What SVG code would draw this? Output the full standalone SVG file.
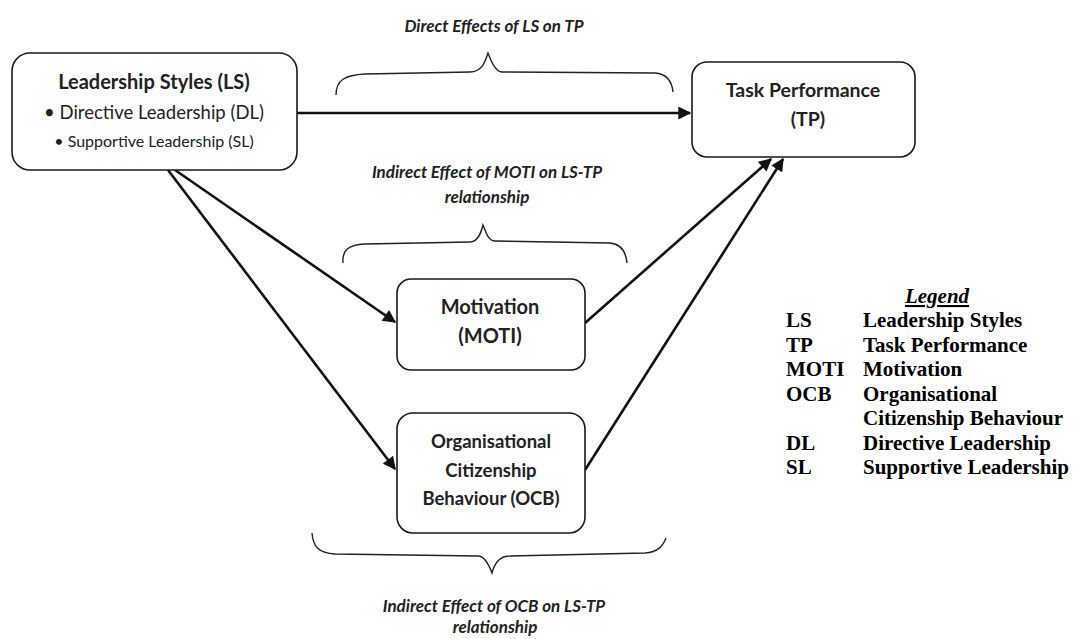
<svg xmlns="http://www.w3.org/2000/svg" width="1081" height="639" viewBox="0 0 1081 639">
<style>
.box{fill:#fff;stroke:#1a1a1a;stroke-width:1.6}
.t{font-family:Lato,"Open Sans",sans-serif;fill:#222;text-anchor:middle}
.b{font-weight:bold}
.it{font-family:Lato,"Open Sans",sans-serif;font-style:italic;font-weight:bold;fill:#222;text-anchor:middle;font-size:17px}
.con{stroke:#111;stroke-width:2.6;fill:none}
.brace{stroke:#222;stroke-width:1.4;fill:none}
.lg{font-family:"Liberation Serif","Times New Roman",serif;font-weight:bold;font-size:21px;fill:#000}
</style>
<defs>
<marker id="ah" viewBox="0 0 10 10" refX="9" refY="5" markerWidth="5.5" markerHeight="5" orient="auto" markerUnits="strokeWidth">
<path d="M0,0 L10,5 L0,10 z" fill="#111"/>
</marker>
</defs>
<rect width="1081" height="639" fill="#fff"/>

<g id="connectors">
<line class="con" x1="297" y1="113" x2="690" y2="113" marker-end="url(#ah)"/>
<line class="con" x1="175" y1="170" x2="395" y2="322" marker-end="url(#ah)"/>
<line class="con" x1="168" y1="170" x2="395" y2="469" marker-end="url(#ah)"/>
<line class="con" x1="585" y1="323" x2="771" y2="159" marker-end="url(#ah)"/>
<line class="con" x1="585" y1="470" x2="783" y2="159" marker-end="url(#ah)"/>
</g>

<g id="braces">
<path class="brace" d="M336,95 C336,80 345,75 365,74 L470,72 C482,72 485,62 488,53 C491,60 495,72 502,72 L655,73 C668,74 672,82 673,92"/>
<path class="brace" d="M343,263 C342,250 348,245 365,244 L470,242 C478,242 481,233 483,225 C486,232 488,241 495,241 L610,243 C622,244 626,252 627,263"/>
<path class="brace" d="M312,533 C313,546 318,553 335,554 L478,556 C485,556 489,565 492,573 C494,565 499,556 510,556 L645,553 C658,552 663,546 666,538"/>
</g>

<g id="ls">
<rect class="box" x="12" y="53" width="285" height="117" rx="18"/>
<text class="t b" x="154" y="89" font-size="20">Leadership Styles (LS)</text>
<text class="t" x="154" y="119" font-size="18.5">• Directive Leadership (DL)</text>
<text class="t" x="154" y="147" font-size="16">• Supportive Leadership (SL)</text>
</g>

<g id="tp">
<rect class="box" x="692" y="62" width="223" height="95" rx="15"/>
<text class="t b" x="803" y="97" font-size="19.5">Task Performance</text>
<text class="t b" x="808" y="126" font-size="19.5">(TP)</text>
</g>

<g id="moti">
<rect class="box" x="397" y="279" width="188" height="91" rx="14"/>
<text class="t b" x="490" y="314" font-size="20">Motivation</text>
<text class="t b" x="490" y="343" font-size="20">(MOTI)</text>
</g>

<g id="ocb">
<rect class="box" x="397" y="413" width="188" height="120" rx="16"/>
<text class="t b" x="491" y="448" font-size="18.5">Organisational</text>
<text class="t b" x="491" y="477" font-size="18.5">Citizenship</text>
<text class="t b" x="491" y="505" font-size="18.5">Behaviour (OCB)</text>
</g>

<g id="labels">
<text class="it" x="494" y="32" font-size="21">Direct Effects of LS on TP</text>
<text class="it" x="487" y="178">Indirect Effect of MOTI on LS-TP</text>
<text class="it" x="487" y="203">relationship</text>
<text class="it" x="494" y="612">Indirect Effect of OCB on LS-TP</text>
<text class="it" x="495" y="633">relationship</text>
</g>

<g id="legend">
<text class="lg" x="937" y="303" text-anchor="middle" font-style="italic" text-decoration="underline">Legend</text>
<text class="lg" x="786" y="327">LS</text><text class="lg" x="863" y="327">Leadership Styles</text>
<text class="lg" x="786" y="351.5">TP</text><text class="lg" x="863" y="351.5">Task Performance</text>
<text class="lg" x="786" y="376">MOTI</text><text class="lg" x="863" y="376">Motivation</text>
<text class="lg" x="786" y="400.5">OCB</text><text class="lg" x="863" y="400.5">Organisational</text>
<text class="lg" x="863" y="425">Citizenship Behaviour</text>
<text class="lg" x="786" y="449.5">DL</text><text class="lg" x="863" y="449.5">Directive Leadership</text>
<text class="lg" x="786" y="474">SL</text><text class="lg" x="863" y="474">Supportive Leadership</text>
</g>
</svg>
